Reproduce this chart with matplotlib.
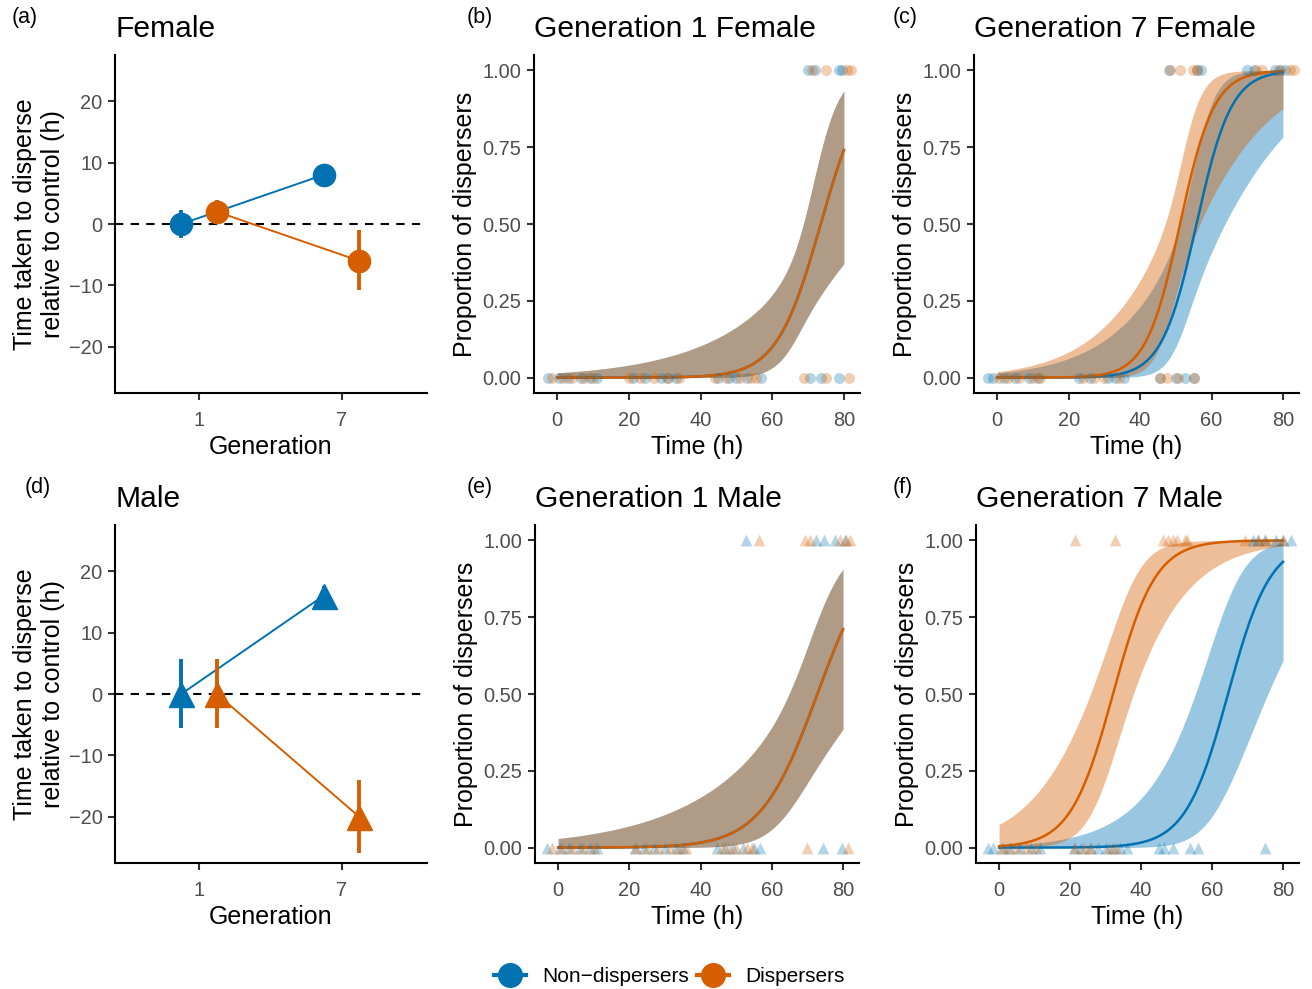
import numpy as np
import matplotlib
matplotlib.use("Agg")
import matplotlib.pyplot as plt
from matplotlib.lines import Line2D

plt.rcParams['font.family'] = ['Liberation Sans', 'DejaVu Sans']

BLUE = '#0072B2'
ORANGE = '#D55E00'
W, H = 1312, 989

# --- panels a / d : time to disperse relative to control (h) ---
gen_labels = ['1', '7']
gen_pos = [1, 2]

fem_non = [0, 8]
fem_non_lo = [-2.2, 6.8]
fem_non_hi = [2.3, 9.2]
fem_dis = [2, -6]
fem_dis_lo = [0.2, -10.8]
fem_dis_hi = [3.9, -0.9]

male_non = [0, 16]
male_non_lo = [-5.6, 14.2]
male_non_hi = [5.7, 17.5]
male_dis = [0, -20]
male_dis_lo = [-5.6, -25.9]
male_dis_hi = [5.7, -14]

# --- logistic fits: intercept, slope, centre time, se at centre, se slope ---
b_non_fit = [-11.95, 0.1625, 68, 0.4, 0.0583]
b_dis_fit = [-11.95, 0.1625, 68, 0.4, 0.0583]
c_non_fit = [-11.44, 0.205, 53.6, 0.45, 0.069]
c_dis_fit = [-10.75, 0.21, 50.2, 0.39, 0.069]
e_non_fit = [-9.1, 0.125, 68, 0.49, 0.0415]
e_dis_fit = [-9.1, 0.125, 68, 0.49, 0.0415]
f_non_fit = [-10.77, 0.167, 62, 0.72, 0.046]
f_dis_fit = [-5.36, 0.167, 33, 0.447, 0.042]

# --- raw observations (time, dispersed 0/1) ---
b_non_0 = [-2.5, 0.5, 3, 6.5, 9, 11, 21, 24.5, 29, 31, 33, 45, 48, 50, 53, 57, 70.5, 73.5, 78.5]
b_dis_0 = [-1.5, 1.5, 4, 7.5, 10, 20, 23, 27, 30.5, 34, 44, 47, 51, 54, 55.5, 69, 75, 81.5]
b_non_1 = [70, 72, 78.5, 79.5]
b_dis_1 = [71, 75, 81, 82]

c_non_0 = [-2.6, -1.2, 2, 5, 9, 11.5, 23, 26, 31, 33, 35.5, 45.5, 50, 52.5, 55]
c_dis_0 = [0.5, 3, 6, 10, 12, 24, 27, 30, 34, 45.5, 47.5, 50.5, 55]
c_non_1 = [48, 56, 57, 70, 72, 77.8, 79.2, 80.6]
c_dis_1 = [48.3, 51.2, 54.7, 55.8, 72.5, 74, 79, 82, 83]

e_non_0 = [-3.2, 0.5, 3, 6, 9, 11, 21.5, 24, 27, 30, 33, 35, 44.5, 47, 49, 52, 55, 56.7, 74.3, 79.6]
e_dis_0 = [-1.8, 1, 4, 7, 10, 22, 25, 28, 31.5, 34, 36, 46, 48, 50, 53, 54.5, 69.8, 81.5]
e_non_1 = [52.9, 72.4, 74.6, 77.7, 80.5]
e_dis_1 = [56.5, 69.3, 70.7, 79.3, 80.8, 82]

f_non_0 = [-3.1, -1.7, 1, 3, 6, 9, 11.5, 21, 23, 25.5, 28, 30, 32, 34, 36, 45, 46.5, 49, 53.7, 56, 74.8]
f_dis_0 = [0.5, 2.5, 5, 8, 10.5, 21.5, 24, 26, 31, 33]
f_non_1 = [71.5, 73, 74.8, 78.1, 80, 82.3]
f_dis_1 = [21.3, 32.6, 46.2, 47.6, 49, 50, 52.3, 53, 69.2, 73, 74.8, 80]


def add_ax(fig, l, t, r, b):
    return fig.add_axes([l / W, 1 - b / H, (r - l) / W, (b - t) / H])


def style(ax):
    ax.spines['top'].set_visible(False)
    ax.spines['right'].set_visible(False)
    ax.spines['left'].set_linewidth(1.5)
    ax.spines['bottom'].set_linewidth(1.5)
    ax.tick_params(width=1.5, length=5, color='#333333', labelsize=14.4,
                   labelcolor='#4D4D4D')
    ax.tick_params(axis='x', pad=8)
    ax.tick_params(axis='y', pad=4)


def inv_logit(x):
    return 1 / (1 + np.exp(-x))


def fit_curve(p):
    a, b, tc, sc, sb = p
    t = np.linspace(0, 80, 300)
    eta = a + b * t
    se = np.sqrt(sc ** 2 + (sb * (t - tc)) ** 2)
    return t, inv_logit(eta), inv_logit(eta - 1.96 * se), inv_logit(eta + 1.96 * se)


def diff_panel(ax, title, non, non_lo, non_hi, dis, dis_lo, dis_hi, mk):
    d = 0.125
    ms = 16 if mk == 'o' else 18
    xn = [g - d for g in gen_pos]
    xd = [g + d for g in gen_pos]
    ax.axhline(0, color='black', lw=1.5, ls=(0, (4, 3.5)), zorder=1)
    ax.plot(xn, non, color=BLUE, lw=1.4, zorder=2)
    ax.plot(xd, dis, color=ORANGE, lw=1.4, zorder=2)
    ax.vlines(xn, non_lo, non_hi, color=BLUE, lw=2.8, zorder=3)
    ax.vlines(xd, dis_lo, dis_hi, color=ORANGE, lw=2.8, zorder=3)
    ax.plot(xn, non, ls='none', marker=mk, ms=ms, color=BLUE, zorder=4)
    ax.plot(xd, dis, ls='none', marker=mk, ms=ms, color=ORANGE, zorder=4)
    ax.set_xlim(0.41, 2.6)
    ax.set_ylim(-27.5, 27.5)
    ax.set_xticks(gen_pos)
    ax.set_xticklabels(gen_labels)
    ax.set_yticks([-20, -10, 0, 10, 20])
    style(ax)
    ax.set_xlabel('Generation', fontsize=18)
    ax.xaxis.set_label_coords(0.5, -0.125)
    ax.set_ylabel('Time taken to disperse\nrelative to control (h)', fontsize=18)
    ax.yaxis.set_label_coords(-0.16, 0.5)
    ax.set_title(title, loc='left', fontsize=21.6, pad=13)


def prop_panel(ax, title, non_fit, dis_fit, non0, non1, dis0, dis1, mk):
    for p, col in [(non_fit, BLUE), (dis_fit, ORANGE)]:
        t, m, lo, hi = fit_curve(p)
        ax.fill_between(t, lo, hi, color=col, alpha=0.4, lw=0, zorder=1)
    for p, col in [(non_fit, BLUE), (dis_fit, ORANGE)]:
        t, m, lo, hi = fit_curve(p)
        ax.plot(t, m, color=col, lw=1.8, zorder=2)
    s = 62 if mk == 'o' else 72
    ax.scatter(non0, np.zeros(len(non0)), s=s, marker=mk, color=BLUE, alpha=0.3, lw=0, zorder=3)
    ax.scatter(non1, np.ones(len(non1)), s=s, marker=mk, color=BLUE, alpha=0.3, lw=0, zorder=3)
    ax.scatter(dis0, np.zeros(len(dis0)), s=s, marker=mk, color=ORANGE, alpha=0.3, lw=0, zorder=3)
    ax.scatter(dis1, np.ones(len(dis1)), s=s, marker=mk, color=ORANGE, alpha=0.3, lw=0, zorder=3)
    ax.set_xlim(-6.5, 84.5)
    ax.set_ylim(-0.05, 1.05)
    ax.set_xticks([0, 20, 40, 60, 80])
    ax.set_yticks([0, 0.25, 0.5, 0.75, 1.0])
    ax.set_yticklabels(['0.00', '0.25', '0.50', '0.75', '1.00'])
    style(ax)
    ax.set_xlabel('Time (h)', fontsize=18)
    ax.xaxis.set_label_coords(0.5, -0.125)
    ax.set_ylabel('Proportion of dispersers', fontsize=18)
    ax.yaxis.set_label_coords(-0.175, 0.5)
    ax.set_title(title, loc='left', fontsize=21.6, pad=13)


def main():
    fig = plt.figure(figsize=(W / 100, H / 100), dpi=100)

    ax_a = add_ax(fig, 115, 55, 427, 393)
    ax_b = add_ax(fig, 534, 55, 860, 393)
    ax_c = add_ax(fig, 974, 55, 1299, 393)
    ax_d = add_ax(fig, 115, 525, 427, 863)
    ax_e = add_ax(fig, 535, 525, 859, 863)
    ax_f = add_ax(fig, 976, 525, 1299, 863)

    diff_panel(ax_a, 'Female', fem_non, fem_non_lo, fem_non_hi,
               fem_dis, fem_dis_lo, fem_dis_hi, 'o')
    diff_panel(ax_d, 'Male', male_non, male_non_lo, male_non_hi,
               male_dis, male_dis_lo, male_dis_hi, '^')

    prop_panel(ax_b, 'Generation 1 Female', b_non_fit, b_dis_fit,
               b_non_0, b_non_1, b_dis_0, b_dis_1, 'o')
    prop_panel(ax_c, 'Generation 7 Female', c_non_fit, c_dis_fit,
               c_non_0, c_non_1, c_dis_0, c_dis_1, 'o')
    prop_panel(ax_e, 'Generation 1 Male', e_non_fit, e_dis_fit,
               e_non_0, e_non_1, e_dis_0, e_dis_1, '^')
    prop_panel(ax_f, 'Generation 7 Male', f_non_fit, f_dis_fit,
               f_non_0, f_non_1, f_dis_0, f_dis_1, '^')

    tags = [('(a)', 12, 18), ('(b)', 467, 18), ('(c)', 893, 18),
            ('(d)', 25, 487), ('(e)', 467, 487), ('(f)', 893, 487)]
    for txt, x, y in tags:
        fig.text(x / W, 1 - y / H, txt, fontsize=15.5, ha='left', va='center')

    handles = [Line2D([], [], color=BLUE, marker='o', ms=17, lw=3),
               Line2D([], [], color=ORANGE, marker='o', ms=17, lw=3)]
    fig.legend(handles, ['Non\u2212dispersers', 'Dispersers'], loc='center',
               bbox_to_anchor=(669 / W, 1 - 977 / H), ncol=2, frameon=False,
               fontsize=15, handlelength=1.55, handletextpad=0.75,
               columnspacing=0.4)

    fig.savefig('out.png', dpi=100)


if __name__ == "__main__":
    main()
